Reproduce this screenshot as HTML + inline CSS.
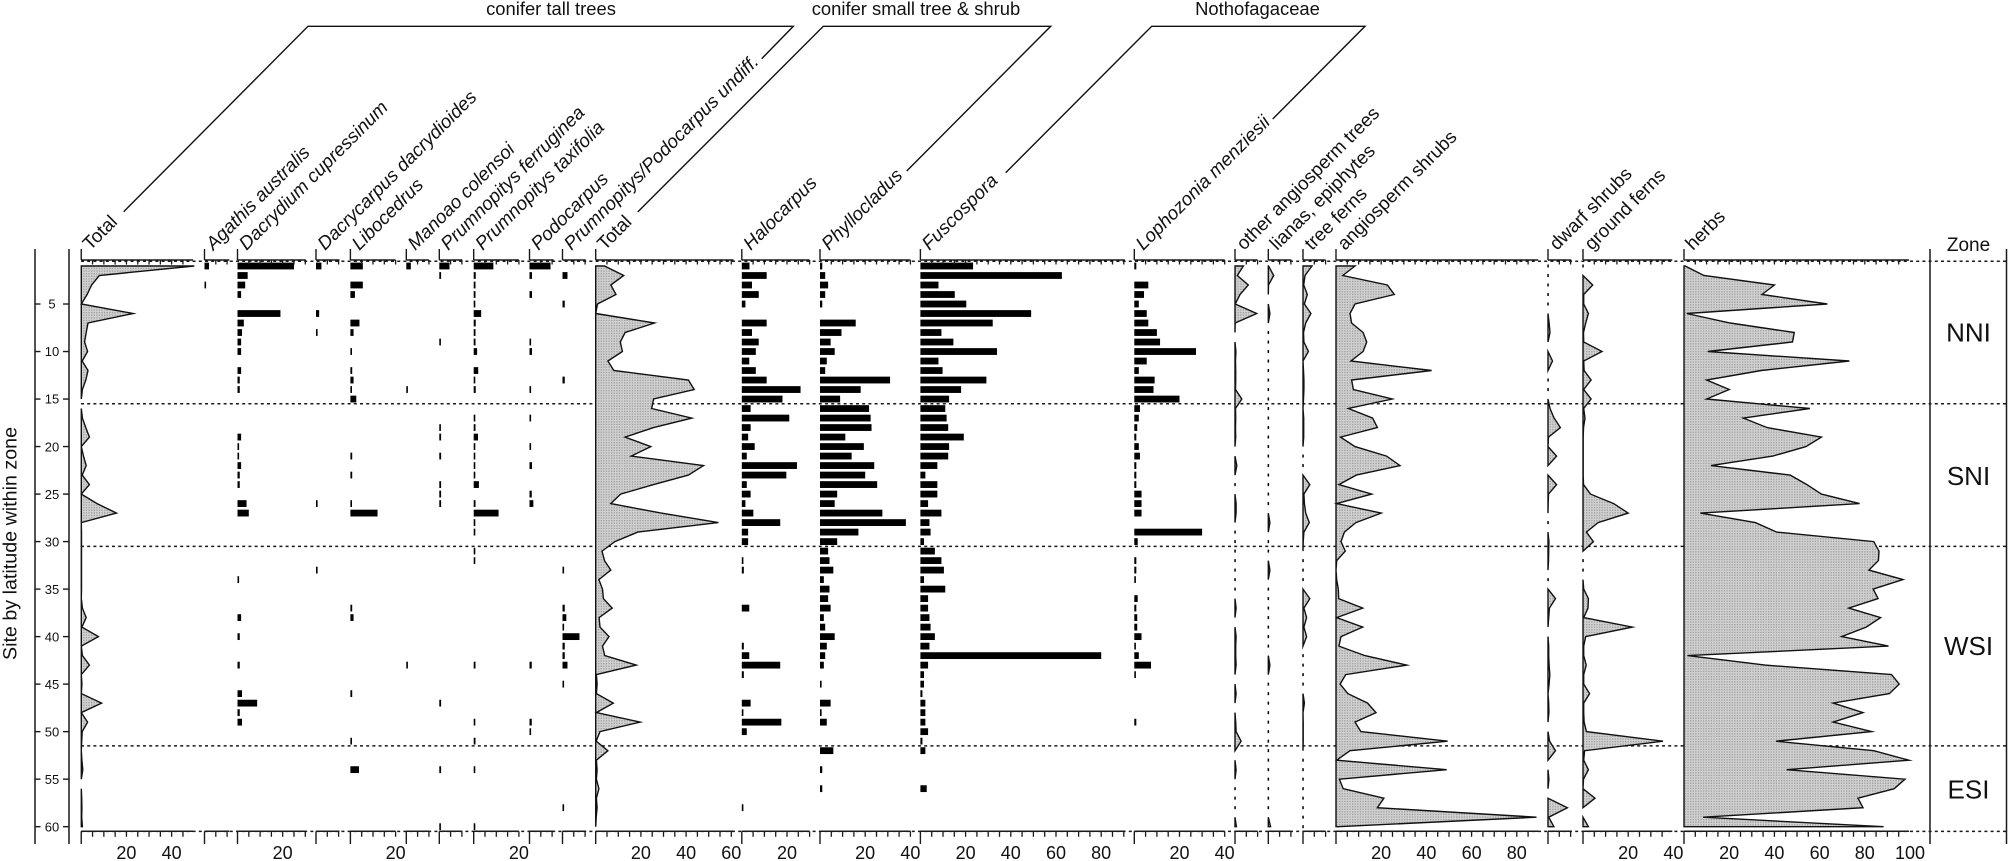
<!DOCTYPE html>
<html>
<head>
<meta charset="utf-8">
<title>Pollen percentages by site</title>
<style>
html,body{margin:0;padding:0;background:#fff;}
svg{display:block;}
text{font-family:"Liberation Sans",sans-serif;fill:#111;}
</style>
</head>
<body>
<svg id="chart" xmlns="http://www.w3.org/2000/svg" width="2008" height="861" viewBox="0 0 2008 861">
<defs>
<pattern id="stipple" width="2.6" height="2.6" patternUnits="userSpaceOnUse">
<rect width="2.6" height="2.6" fill="#d0d0d0"/>
<rect width="1.3" height="1.3" fill="#a0a0a0"/>
</pattern>
</defs>
<g id="zones"></g>
<g id="marks"></g>
<g id="axes"></g>
<g id="labels"></g>
</svg>
<script>
// ---- data: one value per site (1..60), percent ----
const totalTall = [50,8,4.6,2.6,0,23,3,2.2,1.5,2.8, .4,3,2,.5,0,0,.5,2,3.6,0, 1,2.2,.4,3.6,0,7,15.6,0,.1,.1, .1,.1,.1,.1,.1,0,.5,2.2,.3,7.6, 0,.5,3.6,0,.3,0,9,0,2.8,.4, .2,0,.3,.7,0,0,.2,.3,.2,.5];
const agathis = [2,0,.3,0,0,0,0,0,0,0, 0,0,0,0,0,0,0,0,0,0, 0,0,0,0,0,0,0,0,0,0, 0,0,0,0,0,0,0,0,0,0, 0,0,0,0,0,0,0,0,0,0, 0,0,0,0,0,0,0,0,0,0];
const dacrydium = [25,4.5,3.4,1.6,0,19,2.8,2,1.6,1.6, 0,1.6,1,1,0,0,0,0,1.6,.3, .3,1.6,1,1,0,4,5,0,0,0, 0,0,0,.3,0,0,0,1.6,0,1, 0,0,1,0,0,2,8.7,1,2,0, 0,0,0,0,0,0,0,0,0,0];
const dacrycarpus = [2.4,0,0,0,0,1.4,0,.6,0,0, 0,0,0,0,0,0,0,0,0,0, 0,0,0,0,0,.3,0,0,0,0, 0,0,.3,0,0,0,0,0,0,0, 0,0,0,0,0,0,0,0,0,0, 0,0,0,0,0,0,0,0,0,0];
const libocedrus = [5.5,0,5.5,2,0,0,4,1.4,0,.3, 0,.8,1.4,.3,2.6,0,0,0,0,0, .8,0,.8,0,0,.3,12,0,0,0, 0,0,0,0,0,0,.8,1.4,0,0, 0,0,0,0,0,.8,0,0,0,0, .2,0,0,3.8,0,0,0,0,0,0];
const manoao = [2,0,0,0,0,0,0,0,0,0, 0,0,0,.6,0,0,0,0,0,0, 0,0,0,0,0,0,0,0,0,0, 0,0,0,0,0,0,0,0,0,0, 0,0,.4,0,0,0,0,0,0,0, 0,0,0,0,0,0,0,0,0,0];
const ferruginea = [4.5,.8,0,0,0,0,0,0,.3,0, 0,0,0,0,0,0,0,.4,.8,0, .8,0,0,.8,.8,.8,0,0,0,0, 0,0,0,0,0,0,0,0,0,0, 0,0,0,0,0,0,.8,0,0,0, 0,0,0,.8,0,0,0,0,0,.3];
const taxifolia = [8.7,.9,.8,.8,.3,3.3,.9,.8,.8,1.5, 0,2,.3,.9,0,0,.3,.8,1.9,.3, .3,.3,.3,2.3,0,.8,11,.3,.3,0, .3,.3,0,0,0,0,0,0,0,0, 0,0,.8,0,0,0,0,0,.3,0, .8,0,0,.3,0,0,0,0,0,.3];
const podocarpus = [9.3,1.1,0,1.1,0,0,0,0,.3,1.1, 0,0,0,.4,0,0,.4,0,0,.4, 0,1.1,0,0,1,1.7,0,0,0,0, 0,0,0,0,0,0,0,0,0,0, 0,0,1,0,0,0,0,0,1,.3, 0,0,0,0,0,0,0,0,0,0];
const undiff = [0,2.2,0,0,1,0,0,0,0,0, 0,0,1,0,0,0,0,0,0,0, 0,0,0,0,0,0,0,0,0,0, 0,0,.4,0,0,0,1,1.7,.3,7.5, 1,1,2.2,0,.4,0,0,0,0,0, 0,0,0,0,0,0,0,.4,0,0];
const totalSmall = [3.9,12.4,6.7,9,.8,0,26,13,10.9,11.8, 5.4,8,41,43.6,25.6,24.8,42.5,25.6,13,24.4, 15.7,47.7,41,25.6,11,6.7,29,54.3,18.6,8.5, 2.8,3.9,6.7,1.4,3,3.4,7.3,1.5,1.9,5.9, 3,4,17.9,.3,.6,.3,7.8,.3,19.7,1.9, .2,5.4,.3,.6,.3,1.4,.3,.6,.2,0];
const halocarpus = [3.4,11,4.5,7.5,1.6,0,11,4.5,7.5,6.2, 3.3,6.2,11,26,18,3.9,21,3.9,2.8,5.7, 2.2,24.4,19.7,2.2,3.9,1.6,5.1,17,2.8,2.8, 0,.3,.9,0,0,0,3.3,0,0,0, .9,3.3,17,.9,0,0,3.9,.3,17.5,2.2, 0,0,0,0,0,0,0,.3,0,0];
const phyllocladus = [1,2.3,3.6,2.3,1,0,15.8,9.5,4.7,6.5, 3,2.3,31,18,8.9,21.7,22.4,22.8,11.2,19.4, 14,24,20,25.3,7.6,6.5,27.6,38,17,7.6, 3.6,4.2,5.9,1.7,4.2,3.6,4.7,1.7,2.3,6.5, 3,2.3,1.7,0,.6,0,4.7,.6,3,0, 0,5.9,0,1,0,1,0,0,0,0];
const fuscospora = [23.3,62.6,8,15.2,20.3,49,32,9.3,14.6,33.9, 8,9.8,29.2,18,12.7,11,11.6,12.3,19.2,12.7, 12.3,7.5,2.2,7.5,7.5,3.4,9.3,4,4.5,1.6, 6.4,9.3,10.4,1.6,11,3.4,3.4,4,4.5,6.4, 4,80,3.4,1.6,1.6,.9,2.2,2.2,2.2,3.4, .9,2.2,0,0,0,2.8,0,0,0,0];
const lophozonia = [.9,0,6.2,4.3,2,5.5,6.2,10,11.4,27.3, 5.5,2,9,8.5,20,2.5,2,1.3,.9,2, 2.5,.9,.9,.9,3.2,3.2,3.2,0,30,1.5, 0,.9,.9,.3,0,1.5,.9,1.3,1.3,3.2, .5,2,7.4,.3,0,0,0,0,.9,0, 0,0,0,0,0,0,0,0,0,0];
const otherAngio = [3.7,1,5.9,2.2,.1,9.6,.1,0,0,.4, .2,.3,.3,.2,3,.2,.3,.2,.3,0, 0,.8,0,0,0,.5,.5,0,0,0, 0,0,0,0,0,0,.5,0,0,.5, .3,.3,.5,0,0,.5,0,0,.3,.5, 2.7,0,0,.5,0,0,0,0,0,.6];
const lianas = [.1,2.4,.1,0,0,.7,0,0,0,0, 0,0,0,0,0,0,0,0,0,0, 0,0,0,0,0,0,0,.7,0,0, 0,0,.7,0,0,0,0,0,0,0, 0,0,.7,0,0,0,0,0,0,0, 0,0,0,0,0,0,0,0,0,1];
const treeFerns = [4,.9,.3,1.9,.6,3.5,1.2,.2,.4,2.4, 0,.2,.4,.4,.2,0,.3,.3,.3,0, 0,0,0,3,.4,.6,1.2,2.8,.4,.1, 0,0,0,0,0,3,.4,1.6,.4,1.6, 0,0,0,0,0,0,.6,0,.1,.1, .1,0,0,0,0,0,0,0,0,0];
const angioShrubs = [8.4,3,22.7,25.8,8.4,6.2,6.9,12,13.6,12, 6.6,42.3,6.9,7.7,24.9,5.5,16.2,18.3,2,8.4, 22.4,28.3,9,1.3,15.8,.3,20,8.8,3.7,2.2, 4.1,.3,0,.3,1,1.2,11.8,.3,11.8,2.2, 1.3,12.8,31.3,4.3,1.8,5.2,14,17.7,8.4,11, 49.4,6.2,.3,49,1.5,3.2,21.2,18.3,88.7,1];
const dwarfShrubs = [0,0,0,0,0,0,.5,.9,0,0, 2,0,0,0,0,.9,2.7,5.5,.2,0, 3.8,0,0,3.8,.2,.1,0,0,0,.4, .3,.2,0,0,0,3.3,.6,.3,0,0, .3,.3,.5,.8,.5,0,.3,.4,0,0, .7,3.3,0,0,.4,0,0,8.6,.3,2.6];
const groundFerns = [0,0,4.3,.3,.3,2.4,1.2,.2,.3,8.4, .3,.5,3.6,.3,3.6,.3,.9,.2,.1,.1, .1,.1,.1,.2,3.3,13.6,20,6.7,1.5,4.6, 0,0,0,0,.3,2.4,2.2,.3,21.8,1.2, .3,.3,1.4,.3,.3,2.9,.3,.3,.5,1.5, 35.4,.7,.3,2.4,.2,0,5.3,0,0,2.4];
const herbs = [.5,8.8,40,34.5,63.4,1.2,20.4,48.8,48,10.5, 73.2,34.2,10,20,10,55.7,26.3,36.8,60.8,54, 39.3,11.9,47,54.4,60.8,77.7,7.2,31.6,41,84, 86.3,86,81.8,96.9,83.7,85.9,72.9,87,80.6,69.8, 90.5,1.5,35.9,91.8,95.2,90.9,66,79.2,66,83, 40.7,84,99.5,45.4,97.8,93,77,79.2,8.4,88.3];

// tick label values
const ticks20 = [20];
const ticks2040 = [20,40];
const ticks204060 = [20,40,60];
const ticks20to80 = [20,40,60,80];
const ticks20to100 = [20,40,60,80,100];
const noTicks = [];
const siteTicks = [5,10,15,20,25,30,35,40,45,50,55,60];
const zoneBoundaries = [0.5,15.5,30.5,51.5,60.5];

// ---- layout ----
const PX_PER_UNIT = 2.26;
const Y0 = 256.5, PX_PER_SITE = 9.503;
const AXIS_TOP = 260, AXIS_BOT = 831.3, RULE_TOP = 249, RULE_BOT = 844;
const panels = [
 {key:'total-tall',label:'Total',it:false,x0:81.25,max:49.5,kind:'area',v:totalTall,t:ticks2040},
 {key:'agathis',label:'Agathis australis',it:true,x0:204.5,max:11,kind:'bar',v:agathis,t:noTicks},
 {key:'dacrydium',label:'Dacrydium cupressinum',it:true,x0:237.5,max:30.2,kind:'bar',v:dacrydium,t:ticks20},
 {key:'dacrycarpus',label:'Dacrycarpus dacrydioides',it:true,x0:316,max:10.4,kind:'bar',v:dacrycarpus,t:noTicks},
 {key:'libocedrus',label:'Libocedrus',it:true,x0:350.4,max:20,kind:'bar',v:libocedrus,t:ticks20},
 {key:'manoao',label:'Manoao colensoi',it:true,x0:406.3,max:10,kind:'bar',v:manoao,t:noTicks},
 {key:'ferruginea',label:'Prumnopitys ferruginea',it:true,x0:439.3,max:10.2,kind:'bar',v:ferruginea,t:noTicks},
 {key:'taxifolia',label:'Prumnopitys taxifolia',it:true,x0:473.7,max:20,kind:'bar',v:taxifolia,t:ticks20},
 {key:'podocarpus',label:'Podocarpus',it:true,x0:529.5,max:10.7,kind:'bar',v:podocarpus,t:noTicks},
 {key:'undiff',label:'Prumnopitys/Podocarpus undiff.',it:true,x0:562.5,max:10.3,kind:'bar',v:undiff,t:noTicks},
 {key:'total-small',label:'Total',it:false,x0:595.7,max:61,kind:'area',v:totalSmall,t:ticks204060},
 {key:'halocarpus',label:'Halocarpus',it:true,x0:741.8,max:30,kind:'bar',v:halocarpus,t:ticks20},
 {key:'phyllocladus',label:'Phyllocladus',it:true,x0:820,max:40,kind:'bar',v:phyllocladus,t:ticks2040},
 {key:'fuscospora',label:'Fuscospora',it:true,x0:920.4,max:90.5,kind:'bar',v:fuscospora,t:ticks20to80},
 {key:'lophozonia',label:'Lophozonia menziesii',it:true,x0:1134.3,max:40,kind:'bar',v:lophozonia,t:ticks2040},
 {key:'other-angio',label:'other angiosperm trees',it:false,x0:1235,max:10,kind:'area',v:otherAngio,t:noTicks},
 {key:'lianas',label:'lianas, epiphytes',it:false,x0:1268.3,max:10.2,kind:'area',v:lianas,t:noTicks},
 {key:'tree-ferns',label:'tree ferns',it:false,x0:1303,max:10,kind:'area',v:treeFerns,t:noTicks},
 {key:'angio-shrubs',label:'angiosperm shrubs',it:false,x0:1336,max:89.5,kind:'area',v:angioShrubs,t:ticks20to80},
 {key:'dwarf-shrubs',label:'dwarf shrubs',it:false,x0:1548,max:10.3,kind:'area',v:dwarfShrubs,t:noTicks},
 {key:'ground-ferns',label:'ground ferns',it:false,x0:1583,max:39.5,kind:'area',v:groundFerns,t:ticks2040},
 {key:'herbs',label:'herbs',it:false,x0:1684,max:99.6,kind:'area',v:herbs,t:ticks20to100}
];

const SVGNS = 'http://www.w3.org/2000/svg';
const zonesG = document.getElementById('zones');
const marksG = document.getElementById('marks');
const axesG = document.getElementById('axes');
const labelsG = document.getElementById('labels');

function ySite(s){ return Y0 + PX_PER_SITE * s; }
function xVal(p, v){ return p.x0 + PX_PER_UNIT * v; }
function mk(tag, attrs, parent, txt){
  const el = document.createElementNS(SVGNS, tag);
  for (const k in attrs) el.setAttribute(k, attrs[k]);
  if (txt !== undefined) el.textContent = txt;
  parent.appendChild(el);
  return el;
}
function line(x1,y1,x2,y2,sw,parent){
  return mk('line',{x1:x1,y1:y1,x2:x2,y2:y2,stroke:'#1a1a1a','stroke-width':sw},parent);
}

// zone dividers
zoneBoundaries.forEach(function(b){
  const el = mk('line',{x1:81,y1:ySite(b),x2:2006.5,y2:ySite(b),stroke:'#1a1a1a','stroke-width':1.5,'stroke-dasharray':'3 3.2'},zonesG);
  
  
});

function drawBars(p){
  p.v.forEach(function(val,i){
    if (val <= 0) return;
    const w = Math.max(xVal(p,val) - p.x0, 1.6);
    const el = mk('rect',{x:p.x0,y:ySite(i+1)-3.4,width:w,height:6.8,fill:'#000'},marksG);
    
    
  });
}
function drawArea(p){
  const n = p.v.length;
  let i = 0;
  while (i < n){
    const zeroAlone = p.v[i] === 0 && (i === n-1 || p.v[i+1] === 0) && (i === 0 || p.v[i-1] === 0);
    if (zeroAlone){
      const dash = mk('rect',{x:p.x0-0.7,y:ySite(i+1)-1.5,width:1.5,height:3,fill:'#000'},marksG);
      
      
      i++;
      continue;
    }
    // a run: starts here, lasts until a zero whose next value is also zero
    let j = i;
    while (j < n-1 && !(p.v[j] === 0 && p.v[j+1] === 0 && j > i)) j++;
    let pts = [[p.x0,ySite(i+1)]];
    for (let k=i;k<=j;k++) pts.push([xVal(p,p.v[k]),ySite(k+1)]);
    pts.push([p.x0,ySite(j+1)]);
    const el = mk('polygon',{points:pts.map(function(q){return q[0].toFixed(1)+','+q[1].toFixed(1);}).join(' '),
      fill:'url(#stipple)',stroke:'#111','stroke-width':1.4,'stroke-linejoin':'miter','stroke-miterlimit':6},marksG);
    
    
    i = j + 1;
  }
}

panels.forEach(function(p){
  if (p.kind === 'bar') drawBars(p); else drawArea(p);

  // x-axes top and bottom
  const end = xVal(p,p.max);
  const topAxis = line(p.x0,AXIS_TOP,end,AXIS_TOP,1.5,axesG);
  
  
  const botAxis = line(p.x0,AXIS_BOT,end,AXIS_BOT,1.5,axesG);
  
  
  const stemTop = line(p.x0,RULE_TOP,p.x0,AXIS_TOP,1.4,axesG);
  
  
  const stemBot = line(p.x0,AXIS_BOT,p.x0,RULE_BOT,1.4,axesG);
  
  
  for (let t=5; t<=p.max; t+=5){
    const tt = line(xVal(p,t),AXIS_TOP,xVal(p,t),AXIS_TOP+4.5,1.3,axesG);
    
    
    const bt = line(xVal(p,t),AXIS_BOT,xVal(p,t),AXIS_BOT+5.5,1.3,axesG);
    
    
  }
  p.t.forEach(function(t){
    const tl = mk('text',{x:xVal(p,t),y:859,'text-anchor':'middle','font-size':18},axesG,String(t));
    
    
  });

  // rotated taxon label
  const ox = p.x0 + 9, oy = 251;
  const lab = mk('text',{x:ox,y:oy,'font-size':18.8,'font-style':p.it?'italic':'normal',transform:'rotate(-45 '+ox+' '+oy+')'},labelsG,p.label);
  
  
});

// site axes
[35,69].forEach(function(x){
  const r = line(x,RULE_TOP,x,RULE_BOT,1.5,axesG);
  
  
});
siteTicks.forEach(function(s){
  const a = line(35,ySite(s),40.5,ySite(s),1.4,axesG);
  
  
  const b = line(63,ySite(s),69,ySite(s),1.4,axesG);
  
  
  const tl = mk('text',{x:52,y:ySite(s)+4.7,'text-anchor':'middle','font-size':13},axesG,String(s));
  
  
});
const yTitle = mk('text',{x:16.5,y:543.5,'text-anchor':'middle','font-size':19.7,transform:'rotate(-90 16.5 543.5)'},labelsG,'Site by latitude within zone');



// zone column
[1930,2006.5].forEach(function(x){
  const r = line(x,RULE_TOP,x,RULE_BOT,1.5,axesG);
  
  
});
const zoneTitle = mk('text',{x:1968.5,y:251,'text-anchor':'middle','font-size':19},labelsG,'Zone');


const zoneNames = ['NNI','SNI','WSI','ESI'];
const zoneBaselines = [341.7,485,655,798.3];
zoneNames.forEach(function(z,i){
  const el = mk('text',{x:1968.5,y:zoneBaselines[i],'text-anchor':'middle','font-size':26},labelsG,z);
  
  
});

// group brackets
const groupNames = ['conifer tall trees','conifer small tree & shrub','Nothofagaceae'];
const groupCentres = [551,916,1257.5];
groupNames.forEach(function(g,i){
  const el = mk('text',{x:groupCentres[i],y:15,'text-anchor':'middle','font-size':18.4},labelsG,g);
  
  
});
const bracketPaths = ['M123.7 211.7 L308 26.3 L793.3 26.3 L761.7 58.7','M637.7 212 L823.3 26.3 L1050.7 26.3 L906.7 171','M1005.7 172.7 L1151.7 26.3 L1365 26.3 L1272.7 119'];
bracketPaths.forEach(function(d,i){
  const el = mk('path',{d:d,fill:'none',stroke:'#111','stroke-width':1.4},labelsG);
  
  
});
</script>
</body>
</html>
